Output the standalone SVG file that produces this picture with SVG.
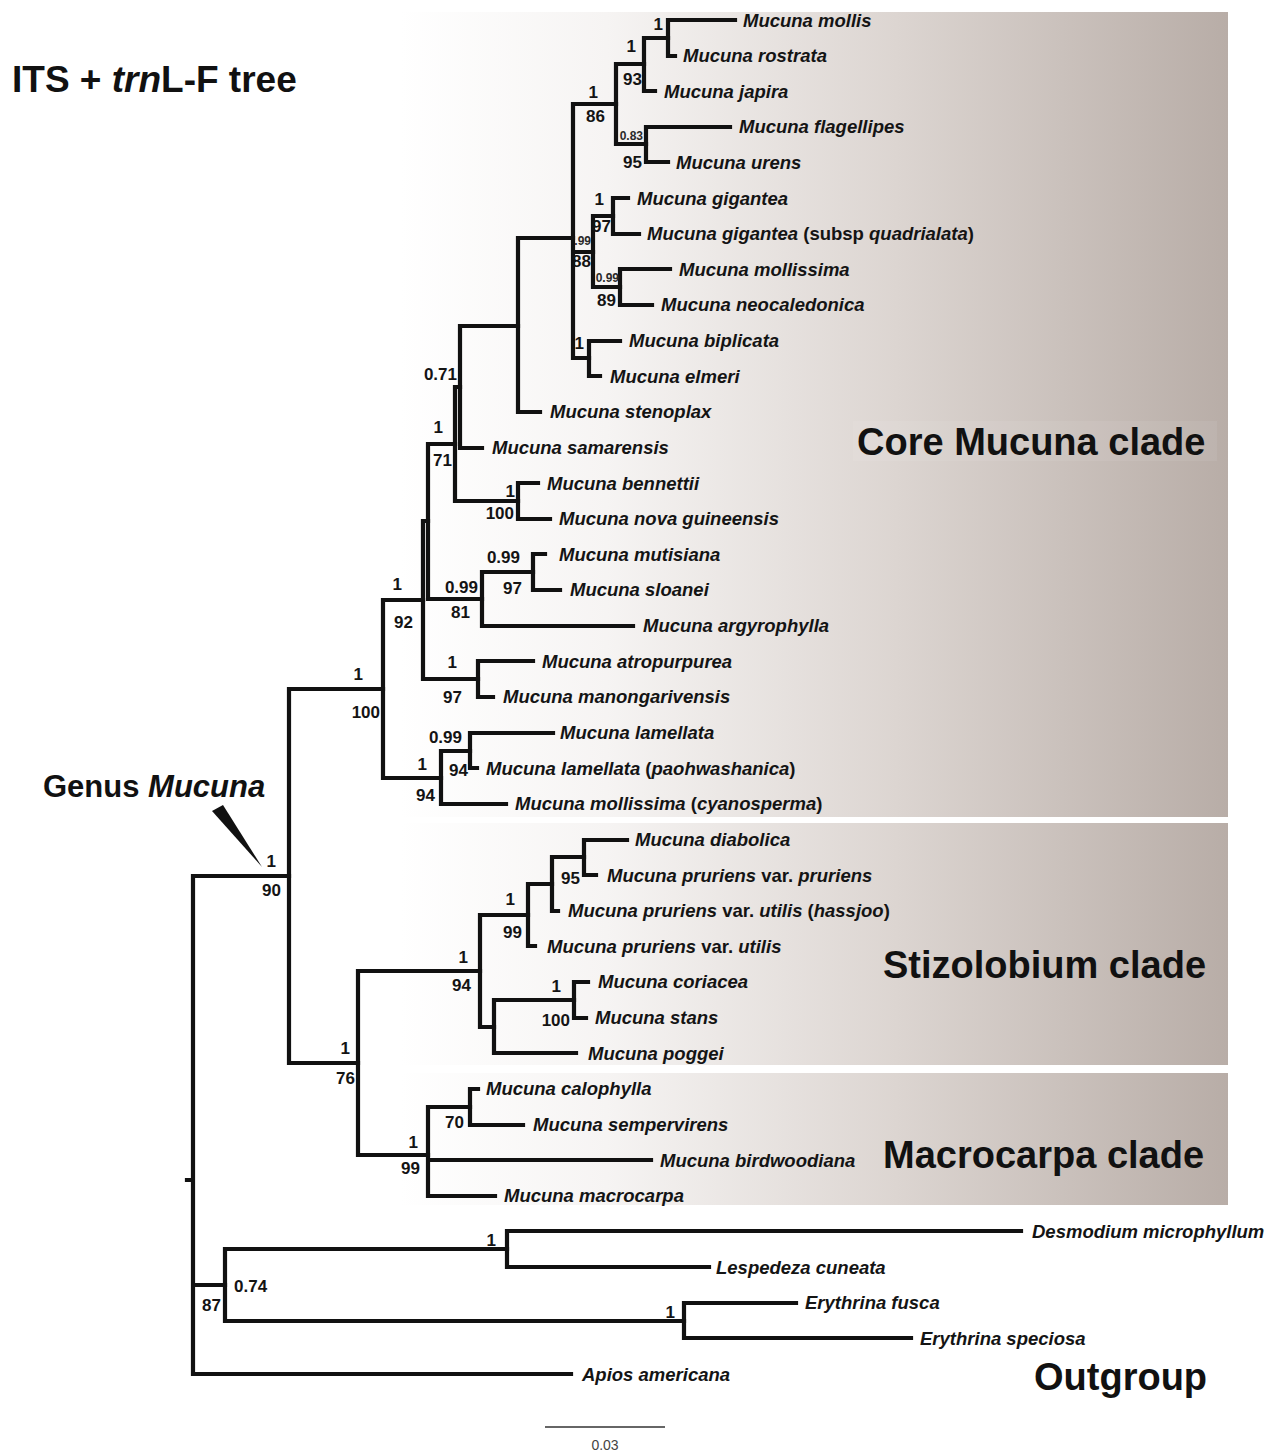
<svg xmlns="http://www.w3.org/2000/svg" width="1270" height="1454" viewBox="0 0 1270 1454">
<defs>
<linearGradient id="bg" x1="0" y1="0" x2="1" y2="0">
<stop offset="0" stop-color="#ffffff"/>
<stop offset="0.25" stop-color="#f6f4f3"/>
<stop offset="0.6" stop-color="#dcd5d1"/>
<stop offset="1" stop-color="#b8ada7"/>
</linearGradient>
<style>
.br{stroke:#111;stroke-width:4.2;fill:none;stroke-linecap:square;stroke-linejoin:miter}
.tx{font-family:"Liberation Sans",Arial,Helvetica,sans-serif;font-weight:bold;font-style:italic;font-size:18.5px;fill:#141414}
.up{font-style:normal}
.sp{font-family:"Liberation Sans",Arial,Helvetica,sans-serif;font-weight:bold;font-size:17px;fill:#141414}
.sm{font-family:"Liberation Sans",Arial,Helvetica,sans-serif;font-weight:bold;font-size:12px;fill:#2a2a2a}
.cl{font-family:"Liberation Sans",Arial,Helvetica,sans-serif;font-weight:bold;font-size:38px;fill:#111}
</style>
</defs>
<rect width="1270" height="1454" fill="#ffffff"/>
<g id="clade-boxes">
<rect x="400" y="12" width="828" height="805" fill="url(#bg)"/>
<rect x="400" y="823" width="828" height="242" fill="url(#bg)"/>
<rect x="400" y="1073" width="828" height="132" fill="url(#bg)"/>
<rect x="853" y="421" width="364" height="40" fill="#ffffff" opacity="0.07"/>
</g>
<text x="12" y="92" style="font-family:'Liberation Sans',Arial,sans-serif;font-weight:bold;font-size:37px;fill:#111">ITS + <tspan font-style="italic">trn</tspan>L-F tree</text>
<g id="connectors" class="br">
<path d="M668,20V56M668,20H735M668,56H675"/>
<path d="M644,38V91M644,38H668M644,91H655"/>
<path d="M646,127V162M646,127H730M646,162H668"/>
<path d="M616,64V144M616,64H644M616,144H646"/>
<path d="M613,198V234M613,198H628M613,234H639"/>
<path d="M620,269V305M620,269H670M620,305H652"/>
<path d="M593,216V287M593,216H613M593,287H620"/>
<path d="M589,341V376M589,341H620M589,376H600"/>
<path d="M573,104V358M573,104H616M573,252H593M573,358H589"/>
<path d="M518,238V412M518,238H573M518,412H540"/>
<path d="M460,326V448M460,326H518M460,448H482"/>
<path d="M518,483V519M518,483H538M518,519H550"/>
<path d="M455,387V501M455,387H460M455,501H518"/>
<path d="M533,554V590M533,554H545M533,590H560"/>
<path d="M482,572V626M482,572H533M482,626H633"/>
<path d="M428,444V599M428,444H455M428,599H482"/>
<path d="M478,661V697M478,661H533M478,697H493"/>
<path d="M423,521V679M423,521H428M423,679H478"/>
<path d="M470,733V768M470,733H553M470,768H477"/>
<path d="M441,751V804M441,751H470M441,804H506"/>
<path d="M383,600V778M383,600H423M383,778H441"/>
<path d="M584,840V875M584,840H627M584,875H596"/>
<path d="M552,857V911M552,857H584M552,911H558"/>
<path d="M528,884V946M528,884H552M528,946H535"/>
<path d="M574,982V1018M574,982H588M574,1018H586"/>
<path d="M494,1000V1053M494,1000H574M494,1053H576"/>
<path d="M480,915V1027M480,915H528M480,1027H494"/>
<path d="M470,1089V1125M470,1089H478M470,1125H523"/>
<path d="M428,1107V1196M428,1107H470M428,1160H651M428,1196H495"/>
<path d="M358,971V1155M358,971H480M358,1155H428"/>
<path d="M289,689V1063M289,689H383M289,1063H358"/>
<path d="M507,1231V1267M507,1231H1021M507,1267H709"/>
<path d="M684,1303V1338M684,1303H796M684,1338H911"/>
<path d="M225,1249V1321M225,1249H507M225,1321H684"/>
<path d="M193,876V1374M193,876H289M193,1285H225M193,1374H571M187,1180H193"/>
</g>
<g id="taxa" class="tx">
<g id="t-mollis"><text x="743" y="27">Mucuna mollis</text></g>
<g id="t-rostrata"><text x="683" y="62">Mucuna rostrata</text></g>
<g id="t-japira"><text x="664" y="98">Mucuna japira</text></g>
<g id="t-flagellipes"><text x="739" y="133">Mucuna flagellipes</text></g>
<g id="t-urens"><text x="676" y="169">Mucuna urens</text></g>
<g id="t-gigantea"><text x="637" y="205">Mucuna gigantea</text></g>
<g id="t-quadrialata"><text x="647" y="240">Mucuna gigantea <tspan class="up">(subsp </tspan>quadrialata<tspan class="up">)</tspan></text></g>
<g id="t-mollissima"><text x="679" y="276">Mucuna mollissima</text></g>
<g id="t-neocaledonica"><text x="661" y="311">Mucuna neocaledonica</text></g>
<g id="t-biplicata"><text x="629" y="347">Mucuna biplicata</text></g>
<g id="t-elmeri"><text x="610" y="383">Mucuna elmeri</text></g>
<g id="t-stenoplax"><text x="550" y="418">Mucuna stenoplax</text></g>
<g id="t-samarensis"><text x="492" y="454">Mucuna samarensis</text></g>
<g id="t-bennettii"><text x="547" y="490">Mucuna bennettii</text></g>
<g id="t-novaguineensis"><text x="559" y="525">Mucuna nova guineensis</text></g>
<g id="t-mutisiana"><text x="559" y="561">Mucuna mutisiana</text></g>
<g id="t-sloanei"><text x="570" y="596">Mucuna sloanei</text></g>
<g id="t-argyrophylla"><text x="643" y="632">Mucuna argyrophylla</text></g>
<g id="t-atropurpurea"><text x="542" y="668">Mucuna atropurpurea</text></g>
<g id="t-manongarivensis"><text x="503" y="703">Mucuna manongarivensis</text></g>
<g id="t-lamellata"><text x="560" y="739">Mucuna lamellata</text></g>
<g id="t-paohwashanica"><text x="486" y="775">Mucuna lamellata <tspan class="up">(</tspan>paohwashanica<tspan class="up">)</tspan></text></g>
<g id="t-cyanosperma"><text x="515" y="810">Mucuna mollissima <tspan class="up">(</tspan>cyanosperma<tspan class="up">)</tspan></text></g>
<g id="t-diabolica"><text x="635" y="846">Mucuna diabolica</text></g>
<g id="t-pruriens"><text x="607" y="882">Mucuna pruriens <tspan class="up">var.</tspan> pruriens</text></g>
<g id="t-hassjoo"><text x="568" y="917">Mucuna pruriens <tspan class="up">var.</tspan> utilis <tspan class="up">(</tspan>hassjoo<tspan class="up">)</tspan></text></g>
<g id="t-utilis"><text x="547" y="953">Mucuna pruriens <tspan class="up">var.</tspan> utilis</text></g>
<g id="t-coriacea"><text x="598" y="988">Mucuna coriacea</text></g>
<g id="t-stans"><text x="595" y="1024">Mucuna stans</text></g>
<g id="t-poggei"><text x="588" y="1060">Mucuna poggei</text></g>
<g id="t-calophylla"><text x="486" y="1095">Mucuna calophylla</text></g>
<g id="t-sempervirens"><text x="533" y="1131">Mucuna sempervirens</text></g>
<g id="t-birdwoodiana"><text x="660" y="1167">Mucuna birdwoodiana</text></g>
<g id="t-macrocarpa"><text x="504" y="1202">Mucuna macrocarpa</text></g>
<g id="t-desmodium"><text x="1032" y="1238">Desmodium microphyllum</text></g>
<g id="t-lespedeza"><text x="716" y="1274">Lespedeza cuneata</text></g>
<g id="t-efusca"><text x="805" y="1309">Erythrina fusca</text></g>
<g id="t-especiosa"><text x="920" y="1345">Erythrina speciosa</text></g>
<g id="t-apios"><text x="582" y="1381">Apios americana</text></g>
</g>
<g id="support" class="sp">
<g id="n-mr"><text x="663" y="30" text-anchor="end">1</text></g>
<g id="n-mrj"><text x="636" y="52" text-anchor="end">1</text><text x="642" y="85" text-anchor="end">93</text></g>
<g id="n-fu"><text x="643" y="140" text-anchor="end" class="sm">0.83</text><text x="642" y="168" text-anchor="end">95</text></g>
<g id="n-y"><text x="598" y="98" text-anchor="end">1</text><text x="605" y="122" text-anchor="end">86</text></g>
<g id="n-gg"><text x="604" y="205" text-anchor="end">1</text><text x="611" y="232" text-anchor="end">97</text></g>
<g id="n-z"><text x="591" y="245" text-anchor="end" class="sm">.99</text><text x="591" y="267" text-anchor="end">88</text></g>
<g id="n-mn"><text x="619" y="282" text-anchor="end" class="sm">0.99</text><text x="616" y="306" text-anchor="end">89</text></g>
<g id="n-bp"><text x="584" y="349" text-anchor="end">1</text></g>
<g id="n-c"><text x="457" y="380" text-anchor="end">0.71</text></g>
<g id="n-b"><text x="443" y="433" text-anchor="end">1</text><text x="452" y="466" text-anchor="end">71</text></g>
<g id="n-bn"><text x="515" y="497" text-anchor="end">1</text><text x="514" y="519" text-anchor="end">100</text></g>
<g id="n-ms"><text x="520" y="563" text-anchor="end">0.99</text><text x="522" y="594" text-anchor="end">97</text></g>
<g id="n-d"><text x="478" y="593" text-anchor="end">0.99</text><text x="470" y="618" text-anchor="end">81</text></g>
<g id="n-a2"><text x="402" y="590" text-anchor="end">1</text><text x="413" y="628" text-anchor="end">92</text></g>
<g id="n-am"><text x="457" y="668" text-anchor="end">1</text><text x="462" y="703" text-anchor="end">97</text></g>
<g id="n-g"><text x="462" y="743" text-anchor="end">0.99</text><text x="468" y="776" text-anchor="end">94</text></g>
<g id="n-f"><text x="427" y="770" text-anchor="end">1</text><text x="435" y="801" text-anchor="end">94</text></g>
<g id="n-h"><text x="363" y="680" text-anchor="end">1</text><text x="380" y="718" text-anchor="end">100</text></g>
<g id="n-i"><text x="276" y="867" text-anchor="end">1</text><text x="281" y="896" text-anchor="end">90</text></g>
<g id="n-m"><text x="580" y="884" text-anchor="end">95</text></g>
<g id="n-l"><text x="515" y="905" text-anchor="end">1</text><text x="522" y="938" text-anchor="end">99</text></g>
<g id="n-k"><text x="468" y="963" text-anchor="end">1</text><text x="471" y="991" text-anchor="end">94</text></g>
<g id="n-q"><text x="561" y="992" text-anchor="end">1</text><text x="570" y="1026" text-anchor="end">100</text></g>
<g id="n-j"><text x="350" y="1054" text-anchor="end">1</text><text x="355" y="1084" text-anchor="end">76</text></g>
<g id="n-r"><text x="418" y="1148" text-anchor="end">1</text><text x="420" y="1174" text-anchor="end">99</text></g>
<g id="n-s"><text x="464" y="1128" text-anchor="end">70</text></g>
<g id="n-t"><text x="221" y="1311" text-anchor="end">87</text><text x="234" y="1292">0.74</text></g>
<g id="n-u"><text x="496" y="1246" text-anchor="end">1</text></g>
<g id="n-v"><text x="675" y="1318" text-anchor="end">1</text></g>
</g>
<g id="genus-label">
<text x="43" y="797" style="font-family:'Liberation Sans',Arial,sans-serif;font-weight:bold;font-size:31px;fill:#111">Genus <tspan font-style="italic">Mucuna</tspan></text>
<polygon points="212,811 223,805 262,867" fill="#111"/>
</g>
<g id="clade-labels" class="cl">
<text x="857" y="455">Core Mucuna clade</text>
<text x="883" y="978">Stizolobium clade</text>
<text x="883" y="1168">Macrocarpa clade</text>
<text x="1034" y="1390">Outgroup</text>
</g>
<g id="scale-bar">
<line x1="545" y1="1427" x2="665" y2="1427" stroke="#333" stroke-width="1.3"/>
<text x="605" y="1450" text-anchor="middle" style="font-family:'Liberation Sans',Arial,sans-serif;font-size:14px;fill:#444">0.03</text>
</g>
</svg>
